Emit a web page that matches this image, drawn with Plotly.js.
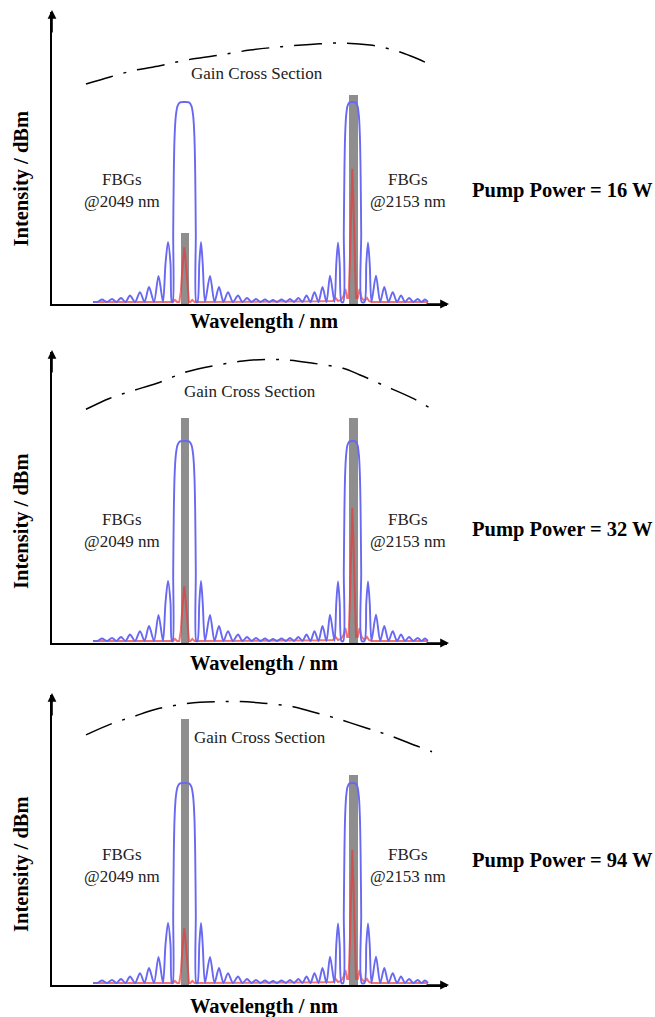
<!DOCTYPE html>
<html><head><meta charset="utf-8">
<script src="https://cdn.plot.ly/plotly-3.0.1.min.js"></script>
<style>html,body{margin:0;padding:0;background:#fff}#chart{width:655px;height:1017px}</style>
</head><body><div id="chart"></div>
<script>
// ---------------- data (x in arbitrary wavelength units, y in arbitrary intensity units) ----------------
// FBG reflection spectra (same two gratings in every panel)
const blueX = [93, 97.5, 102, 107, 112, 116.5, 121, 125.5, 130, 135, 140, 144.5, 149, 154, 158.5, 163, 165.5, 168, 170.5, 171.8,
  172.7, 173.2, 173.8, 174.6, 175.8, 177.5, 180, 184.5, 189, 191.5, 193.2, 194.4, 195.2, 195.8, 196.3,
  197.5, 199.3, 201, 202.7, 205, 210, 214.5, 219, 223.5, 228, 233, 238, 242.5, 247, 251.5, 256, 260.5, 265, 269,
  273, 277, 281.5, 286, 290, 294, 298.5, 302.5, 306.5, 310.5, 314.5, 318.5, 322.5, 326.5, 330, 334.5, 336.3, 338, 339.7, 341.5,
  343.3, 343.8, 344.4, 345.1, 346.1, 347.5, 349.5, 352.5, 355.5, 357.5, 358.9, 359.9, 360.6, 361.2, 361.7,
  364.5, 366.3, 368, 369.7, 371.5, 376, 380.2, 384.3, 388.5, 392.7, 397, 401, 405, 409, 413.3, 417.7, 421.5, 425, 428];
const blueY = [1, 1, 2.2, 1, 2.5, 1, 3, 1, 4.2, 1, 5.9, 1, 8.4, 1, 13.9, 1, 20, 30.7, 20, 1,
  1, 35, 65, 83, 93, 98, 99.8, 100, 99.8, 98, 93, 83, 65, 35, 1,
  1, 20, 30.7, 20, 1, 13.9, 1, 8.4, 1, 5.9, 1, 4.2, 1, 3, 1, 2.5, 1, 2.2, 1,
  2, 1, 2.2, 1, 2.5, 1, 3, 1, 4.2, 1, 5.9, 1, 8.4, 1, 14, 1, 20, 30.5, 20, 1,
  1, 35, 65, 83, 93, 98, 99.8, 100, 99.8, 98, 93, 83, 65, 35, 1,
  1, 20, 30.5, 20, 1, 14, 1, 8.4, 1, 5.9, 1, 4.2, 1, 3, 1, 2.5, 1, 2.2, 1];

// laser output spectrum
const redX = [93, 150, 173, 175, 177, 179.3, 180.8, 182.3, 183.4, 184.2, 185, 186.1, 187.6, 189, 190.5, 192.3, 194.5, 260, 320, 333, 335.5, 338,
  341, 343.5, 345.3, 347.2, 348.6, 349.9, 351.3, 352.3, 353.3, 354.7, 356, 357.7, 359.6, 361.6, 364.5, 367, 369, 371.5, 428];
const redY = [1, 1, 1, 2, 1, 1, 6, 17, 25, 28, 25, 17, 6, 1, 1, 2, 1, 1, 1.3, 1.5, 3, 1.5,
  2, 4, 7.4, 3, 3, 22, 52, 67, 52, 22, 3, 3, 7.4, 3, 1.5, 3, 1.5, 1, 1];

// lasing lines (grey bars) at the two FBG wavelengths
const fbgBarX = [185, 353.5];
const barTop16 = [35, 103.5];
const barTop32 = [111.5, 111.5];
const barTop94 = [131.5, 104];

// gain cross section (dash-dot)
const gainX16 = [86, 110, 133, 160, 187, 217, 250, 280, 310, 340, 370, 395, 412, 427];
const gainY16 = [108.9, 112.4, 115.5, 118, 120.8, 123, 125.7, 127.3, 128.5, 129.2, 128.2, 125.5, 122.5, 119.3];
const gainX32 = [86, 110, 132, 157, 187, 216, 243, 268, 290, 313, 343, 360, 383, 413, 432];
const gainY32 = [115.7, 121.2, 124.8, 128.6, 134.3, 137.5, 139.6, 140.4, 140, 138.5, 136, 132.7, 127.7, 121.1, 115.7];
const gainX94 = [86, 113, 133, 155, 177, 200, 220, 240, 263, 293, 312, 335, 367, 388, 417, 432];
const gainY94 = [123.8, 129.6, 132.8, 136.4, 138.6, 140, 140.3, 140.3, 139.5, 137.8, 135.3, 132.2, 127.1, 123.8, 118.3, 115.5];

const pumpLabels = ['Pump Power = 16 W', 'Pump Power = 32 W', 'Pump Power = 94 W'];
const fbgLabels = ['FBGs<br>@2049 nm', 'FBGs<br>@2153 nm'];
const gainLabel = 'Gain Cross Section';
const xTitle = 'Wavelength / nm';
const yTitle = 'Intensity / dBm';

// ---------------- layout ----------------
const W = 655, H = 1017, PXU = 2.02;
const FONT = '"Liberation Serif", "Times New Roman", Times, serif';
const px = x => x / W, py = y => 1 - y / H;

const panels = [
  {top: 12, bottom: 304, gx: gainX16, gy: gainY16, bars: barTop16, pump: pumpLabels[0], gain: [257, 74], fbgY: 190, pumpY: 190, yT: 178.5, xT: 321},
  {top: 352, bottom: 643, gx: gainX32, gy: gainY32, bars: barTop32, pump: pumpLabels[1], gain: [250, 391], fbgY: 530.5, pumpY: 529, yT: 521, xT: 663},
  {top: 695, bottom: 985, gx: gainX94, gy: gainY94, bars: barTop94, pump: pumpLabels[2], gain: [260, 737], fbgY: 865.5, pumpY: 860, yT: 864, xT: 1006}
];

const traces = [];
const annotations = [];
const layout = {
  width: W, height: H, margin: {l: 0, r: 0, t: 0, b: 0},
  paper_bgcolor: '#fff', plot_bgcolor: 'rgba(0,0,0,0)',
  showlegend: false, bargap: 0,
  font: {family: FONT, color: '#111'}
};

panels.forEach((p, i) => {
  const s = i === 0 ? '' : String(i + 1);
  const xa = 'x' + s, ya = 'y' + s;
  layout['xaxis' + s] = {domain: [px(52), px(447)], range: [52, 447], anchor: ya,
    showline: true, linecolor: '#000', linewidth: 1.8, showgrid: false, zeroline: false,
    showticklabels: false, ticks: '', fixedrange: true};
  layout['yaxis' + s] = {domain: [py(p.bottom), py(p.top)], range: [0, (p.bottom - p.top) / PXU], anchor: xa,
    showline: true, linecolor: '#000', linewidth: 1.8, showgrid: false, zeroline: false,
    showticklabels: false, ticks: '', fixedrange: true};

  traces.push({type: 'bar', x: fbgBarX, y: p.bars, width: 8.5, xaxis: xa, yaxis: ya,
    marker: {color: '#8e8e8e', line: {width: 0}}, hoverinfo: 'skip'});
  traces.push({type: 'scatter', mode: 'lines', x: redX, y: redY, xaxis: xa, yaxis: ya,
    line: {color: 'rgba(235,55,55,0.7)', width: 2}, hoverinfo: 'skip'});
  traces.push({type: 'scatter', mode: 'lines', x: blueX, y: blueY, xaxis: xa, yaxis: ya,
    line: {color: '#6868f2', width: 1.9, shape: 'spline', smoothing: 0.8}, hoverinfo: 'skip'});
  traces.push({type: 'scatter', mode: 'lines', x: p.gx, y: p.gy, xaxis: xa, yaxis: ya,
    line: {color: '#000', width: 1.5, shape: 'spline', smoothing: 1, dash: '28px,11px,3px,11px'}, hoverinfo: 'skip'});

  // axis arrows
  annotations.push({x: px(52), y: py(p.top - 2), xref: 'paper', yref: 'paper', text: '', showarrow: true,
    ax: 0, ay: 24, arrowhead: 2, arrowsize: 1.1, arrowwidth: 1.6, arrowcolor: '#000'});
  annotations.push({x: px(449), y: py(p.bottom), xref: 'paper', yref: 'paper', text: '', showarrow: true,
    ax: -24, ay: 0, arrowhead: 2, arrowsize: 1.1, arrowwidth: 1.6, arrowcolor: '#000'});

  annotations.push({x: px(p.gain[0]), y: py(p.gain[1]), xref: 'paper', yref: 'paper', text: gainLabel,
    showarrow: false, xanchor: 'center', yanchor: 'middle', font: {family: FONT, size: 17, color: '#222'}});
  annotations.push({x: px(122), y: py(p.fbgY), xref: 'paper', yref: 'paper', text: fbgLabels[0],
    showarrow: false, xanchor: 'center', yanchor: 'middle', font: {family: FONT, size: 17, color: '#222'}});
  annotations.push({x: px(408), y: py(p.fbgY), xref: 'paper', yref: 'paper', text: fbgLabels[1],
    showarrow: false, xanchor: 'center', yanchor: 'middle', font: {family: FONT, size: 17, color: '#222'}});
  annotations.push({x: px(470), y: py(p.pumpY), xref: 'paper', yref: 'paper', text: '<b>' + p.pump + '</b>',
    showarrow: false, xanchor: 'left', yanchor: 'middle', font: {family: FONT, size: 20.5, color: '#000'}});
  annotations.push({x: px(263.5), y: py(p.xT), xref: 'paper', yref: 'paper', text: '<b>' + xTitle + '</b>',
    showarrow: false, xanchor: 'center', yanchor: 'middle', font: {family: FONT, size: 20.5, color: '#000'}});
  annotations.push({x: px(21), y: py(p.yT), xref: 'paper', yref: 'paper', text: '<b>' + yTitle + '</b>', textangle: -90,
    showarrow: false, xanchor: 'center', yanchor: 'middle', font: {family: FONT, size: 20.5, color: '#000'}});
});
layout.annotations = annotations;

Plotly.newPlot('chart', traces, layout, {staticPlot: true, displayModeBar: false});
</script>
</body></html>
